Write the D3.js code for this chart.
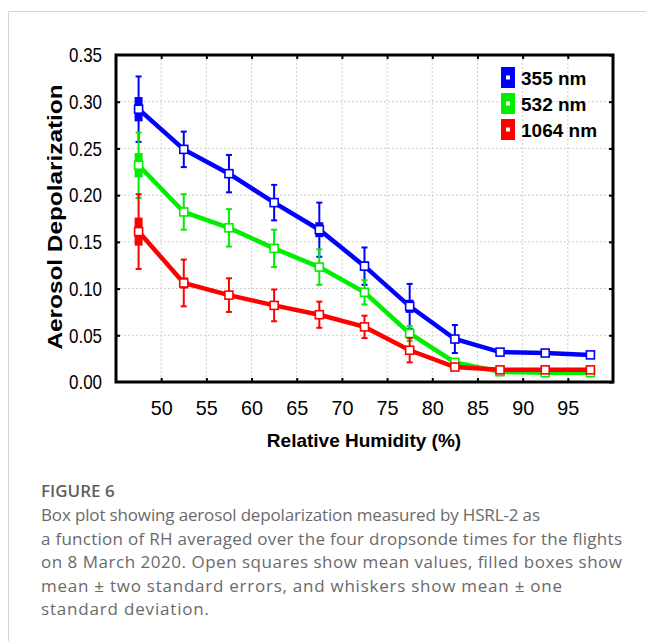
<!DOCTYPE html>
<html>
<head>
<meta charset="utf-8">
<script src="https://cdn.jsdelivr.net/npm/d3@7"></script>
<style>
  body { margin: 0; background: #fff; }
  svg { display: block; }
</style>
</head>
<body>
<svg id="chart" width="646" height="641"></svg>
<script>
// RH bin centres (x) and the three wavelengths
const rhBins = [47.5, 52.5, 57.5, 62.5, 67.5, 72.5, 77.5, 82.5, 87.5, 92.5, 97.5]
const xTicks = [50, 55, 60, 65, 70, 75, 80, 85, 90, 95]
const yTicks = [0, 0.05, 0.1, 0.15, 0.2, 0.25, 0.3, 0.35]

// means
const mean355 = [0.292, 0.249, 0.223, 0.192, 0.163, 0.124, 0.081, 0.046, 0.032, 0.031, 0.029]
const mean532 = [0.232, 0.182, 0.165, 0.143, 0.123, 0.096, 0.052, 0.021, 0.011, 0.010, 0.010]
const mean1064 = [0.161, 0.106, 0.093, 0.082, 0.072, 0.059, 0.034, 0.016, 0.013, 0.013, 0.013]
// two standard errors (filled box half height)
const se355 = [0.013, 0.004, 0.004, 0.004, 0.008, 0.005, 0.007, 0.004, 0.002, 0.002, 0.002]
const se532 = [0.013, 0.003, 0.003, 0.003, 0.003, 0.003, 0.003, 0.001, 0.001, 0.001, 0.001]
const se1064 = [0.015, 0.006, 0.003, 0.003, 0.002, 0.003, 0.003, 0.001, 0.001, 0.001, 0.001]
// one standard deviation (whisker half length)
const sd355 = [0.035, 0.019, 0.020, 0.019, 0.029, 0.020, 0.024, 0.015, 0.002, 0.003, 0.003]
const sd532 = [0.035, 0.019, 0.020, 0.020, 0.019, 0.013, 0.008, 0.003, 0.002, 0.002, 0.002]
const sd1064 = [0.040, 0.025, 0.018, 0.017, 0.014, 0.012, 0.013, 0.003, 0.002, 0.002, 0.002]

const seriesNames = ["355 nm", "532 nm", "1064 nm"]
const seriesColors = ["#0000ff", "#00ee00", "#ff0000"]

const captionTitle = "FIGURE 6"
const captionLines = [
  "Box plot showing aerosol depolarization measured by HSRL-2 as",
  "a function of RH averaged over the four dropsonde times for the flights",
  "on 8 March 2020. Open squares show mean values, filled boxes show",
  "mean \u00b1 two standard errors, and whiskers show mean \u00b1 one",
  "standard deviation."
]
// rendered width of each caption line in the figure panel
const captionWidths = [499, 581, 581, 521, 168]

const series = [
  { name: seriesNames[0], color: seriesColors[0], mean: mean355, se: se355, sd: sd355 },
  { name: seriesNames[1], color: seriesColors[1], mean: mean532, se: se532, sd: sd532 },
  { name: seriesNames[2], color: seriesColors[2], mean: mean1064, se: se1064, sd: sd1064 }
]

const svg = d3.select("#chart")

// card border (top and left edge of the figure panel)
svg.append("path")
  .attr("d", "M8.5,641 V11.5 H646")
  .attr("fill", "none")
  .attr("stroke", "#d6d6d6")
  .attr("stroke-width", 1)

// plot frame
const plot = { left: 116, top: 55, right: 613, bottom: 382 }

const xScale = d3.scaleLinear().domain([45, 100]).range([plot.left, plot.right])
const yScale = d3.scaleLinear().domain([0, 0.35]).range([plot.bottom, plot.top])

// dashed grid
const grid = svg.append("g").attr("stroke", "#cfcfcf").attr("stroke-width", 1).attr("stroke-dasharray", "2,2")
grid.selectAll(".gx").data(xTicks).join("line")
  .attr("x1", d => xScale(d)).attr("x2", d => xScale(d))
  .attr("y1", plot.top).attr("y2", plot.bottom)
grid.selectAll(".gy").data(yTicks.slice(1, -1)).join("line")
  .attr("x1", plot.left).attr("x2", plot.right)
  .attr("y1", d => yScale(d)).attr("y2", d => yScale(d))

// axes with inward ticks on all four sides
const axisFont = "Liberation Sans, Arial, sans-serif"
const xAxis = svg.append("g")
  .attr("transform", `translate(0,${plot.bottom})`)
  .call(d3.axisBottom(xScale).tickValues(xTicks).tickSize(-4).tickPadding(18).tickFormat(d3.format("d")))
const yAxis = svg.append("g")
  .attr("transform", `translate(${plot.left},0)`)
  .call(d3.axisLeft(yScale).tickValues(yTicks).tickSize(-4).tickPadding(14).tickFormat(d3.format(".2f")))
svg.append("g")
  .attr("transform", `translate(0,${plot.top})`)
  .call(d3.axisTop(xScale).tickValues(xTicks).tickSize(-4).tickFormat(""))
svg.append("g")
  .attr("transform", `translate(${plot.right},0)`)
  .call(d3.axisRight(yScale).tickValues(yTicks).tickSize(-4).tickFormat(""))

svg.selectAll(".domain").remove()
svg.selectAll(".tick line").attr("stroke", "#000").attr("stroke-width", 2)
xAxis.selectAll("text").attr("font-family", axisFont).attr("font-size", 21).attr("fill", "#000")
  .attr("textLength", 22).attr("lengthAdjust", "spacingAndGlyphs")
yAxis.selectAll("text").attr("font-family", axisFont).attr("font-size", 21).attr("fill", "#000")
  .attr("textLength", 33).attr("lengthAdjust", "spacingAndGlyphs")
yAxis.selectAll(".tick").filter(d => d === 0 || d === 0.35).select("line").remove()

svg.append("rect")
  .attr("x", plot.left).attr("y", plot.top)
  .attr("width", plot.right - plot.left).attr("height", plot.bottom - plot.top)
  .attr("fill", "none").attr("stroke", "#000").attr("stroke-width", 3)

// series: line, whiskers, filled box, open mean square
const line = d3.line().x((d, i) => xScale(rhBins[i])).y(d => yScale(d))
series.forEach(s => {
  const g = svg.append("g")
  g.append("path")
    .attr("d", line(s.mean))
    .attr("fill", "none").attr("stroke", s.color).attr("stroke-width", 4.5)
  const pts = g.selectAll(".pt").data(rhBins.map((x, i) => ({ x, m: s.mean[i], se: s.se[i], sd: s.sd[i] })))
    .join("g").attr("class", "pt")
  // whisker stem
  pts.append("line")
    .attr("x1", d => xScale(d.x)).attr("x2", d => xScale(d.x))
    .attr("y1", d => yScale(d.m + d.sd)).attr("y2", d => yScale(d.m - d.sd))
    .attr("stroke", s.color).attr("stroke-width", 2)
  // whisker caps
  ;[1, -1].forEach(sign => {
    pts.append("line")
      .attr("x1", d => xScale(d.x) - 3).attr("x2", d => xScale(d.x) + 3)
      .attr("y1", d => yScale(d.m + sign * d.sd)).attr("y2", d => yScale(d.m + sign * d.sd))
      .attr("stroke", s.color).attr("stroke-width", 2)
  })
  // filled box, mean +- 2 SE
  pts.append("rect")
    .attr("x", d => xScale(d.x) - 4)
    .attr("y", d => yScale(d.m + d.se))
    .attr("width", 8)
    .attr("height", d => yScale(d.m - d.se) - yScale(d.m + d.se))
    .attr("fill", s.color)
  // open mean square
  pts.append("rect")
    .attr("x", d => xScale(d.x) - 4).attr("y", d => yScale(d.m) - 4)
    .attr("width", 8).attr("height", 8)
    .attr("fill", "#fff").attr("stroke", s.color).attr("stroke-width", 1.6)
})

// legend
const legend = svg.append("g").attr("transform", "translate(501,67)")
series.forEach((s, i) => {
  const row = legend.append("g").attr("transform", `translate(0,${i * 26})`)
  row.append("rect").attr("width", 14).attr("height", 21).attr("fill", s.color)
  row.append("rect").attr("x", 5).attr("y", 8.5).attr("width", 4).attr("height", 4).attr("fill", "#fff")
  row.append("text")
    .attr("x", 20).attr("y", 17.5)
    .attr("font-family", axisFont).attr("font-weight", "bold").attr("font-size", 19)
    .text(s.name)
})

// axis titles
svg.append("text")
  .attr("x", 364).attr("y", 447)
  .attr("text-anchor", "middle")
  .attr("font-family", axisFont).attr("font-weight", "bold").attr("font-size", 19)
  .text("Relative Humidity (%)")
svg.append("text")
  .attr("transform", "translate(62,217) rotate(-90)")
  .attr("text-anchor", "middle")
  .attr("font-family", axisFont).attr("font-weight", "bold").attr("font-size", 20)
  .attr("textLength", 265).attr("lengthAdjust", "spacingAndGlyphs")
  .text("Aerosol Depolarization")

// caption
const capFont = "Open Sans, Noto Sans, sans-serif"
svg.append("text")
  .attr("x", 41).attr("y", 497)
  .attr("font-family", capFont).attr("font-size", 17).attr("font-weight", 600)
  .attr("fill", "#5f5f5f")
  .text(captionTitle)
svg.selectAll(".cap").data(captionLines).join("text")
  .attr("class", "cap")
  .attr("x", 41).attr("y", (d, i) => 521 + i * 23.6)
  .attr("font-family", capFont).attr("font-size", 17)
  .attr("fill", "#6a6a6a")
  .attr("textLength", (d, i) => captionWidths[i]).attr("lengthAdjust", "spacing")
  .text(d => d)
</script>
</body>
</html>
